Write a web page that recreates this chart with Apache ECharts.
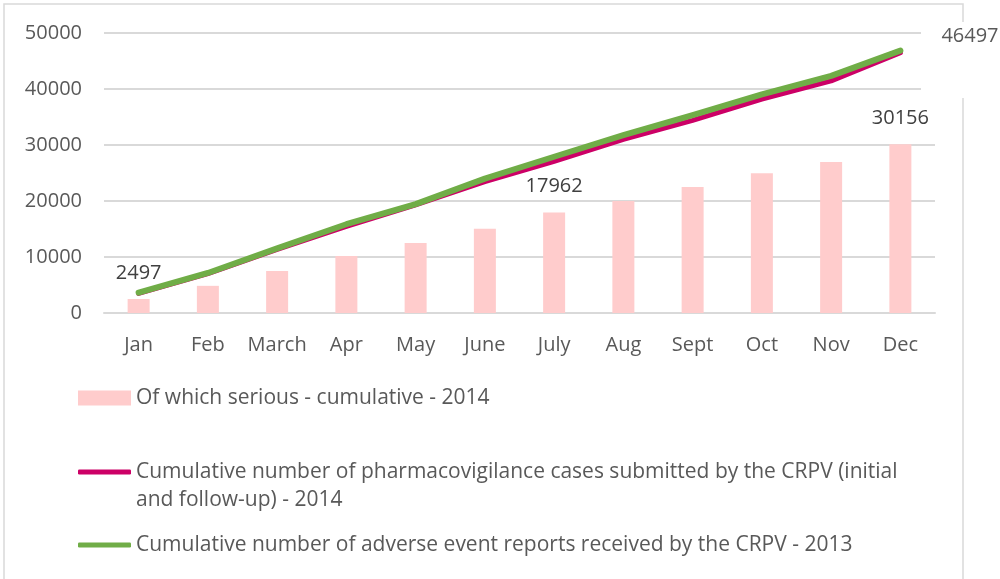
<!DOCTYPE html>
<html>
<head>
<meta charset="utf-8">
<script src="https://cdn.jsdelivr.net/npm/echarts@6/dist/echarts.min.js"></script>
<style>
  html, body { margin: 0; padding: 0; background: #fff; }
  #chart { width: 1000px; height: 579px; }
</style>
</head>
<body>
<div id="chart"></div>
<script>
// months on the category axis
const months = ['Jan', 'Feb', 'March', 'Apr', 'May', 'June', 'July', 'Aug', 'Sept', 'Oct', 'Nov', 'Dec']
// serious cases, cumulative 2014 (bars)
const serious2014 = [2497, 4850, 7500, 10180, 12500, 15050, 17962, 20000, 22500, 24950, 26960, 30156]
// CRPV pharmacovigilance cases 2014 (magenta line)
const cases2014 = [3500, 7050, 11350, 15450, 19300, 23450, 27100, 31000, 34400, 38200, 41450, 46497]
// adverse event reports 2013 (green line)
const reports2013 = [3650, 7150, 11550, 15850, 19450, 24000, 27900, 31750, 35350, 39050, 42350, 46850]
// which bars carry a value label
const labelledBars = [0, 6, 11]

const nameBars = 'Of which serious - cumulative - 2014'
const nameCases = 'Cumulative number of pharmacovigilance cases submitted by the CRPV (initial and follow-up) - 2014'
const nameReports = 'Cumulative number of adverse event reports received by the CRPV - 2013'

const font = 'Open Sans'
const chart = echarts.init(document.getElementById('chart'))

const barData = serious2014.map((v, i) => ({
  value: v,
  label: { show: labelledBars.indexOf(i) >= 0 }
}))

const legendText = { color: '#595959', fontFamily: font, fontSize: 21, lineHeight: 28 }

chart.setOption({
  animation: false,
  textStyle: { fontFamily: font },
  graphic: [
    {
      // chart area border
      type: 'rect',
      z: -10,
      shape: { x: 4, y: 4, width: 959, height: 600 },
      style: { fill: 'none', stroke: '#d9d9d9', lineWidth: 1.5 }
    },
    {
      // white box behind the end label, as in the original
      type: 'rect',
      z: 1,
      shape: { x: 921, y: 22, width: 79, height: 76 },
      style: { fill: '#fff' }
    }
  ],
  grid: { left: 104, right: 65, top: 33, bottom: 266 },
  legend: [
    {
      left: 78, top: 384, padding: 0,
      itemWidth: 53, itemHeight: 15,
      icon: 'rect',
      data: [{ name: nameBars }],
      textStyle: legendText
    },
    {
      left: 78, top: 430, padding: 0,
      itemWidth: 53, itemHeight: 5,
      icon: 'roundRect',
      data: [{ name: nameCases }],
      // blank first line keeps the icon level with the first text line
      formatter: () => ' \nCumulative number of pharmacovigilance cases submitted by the CRPV (initial\nand follow-up) - 2014',
      textStyle: legendText
    },
    {
      left: 78, top: 531, padding: 0,
      itemWidth: 53, itemHeight: 5,
      icon: 'roundRect',
      data: [{ name: nameReports }],
      textStyle: legendText
    }
  ],
  xAxis: {
    type: 'category',
    data: months,
    axisTick: { show: false },
    axisLine: { lineStyle: { color: '#d9d9d9', width: 2 } },
    axisLabel: { color: '#595959', fontSize: 20, margin: 22, interval: 0 }
  },
  yAxis: {
    type: 'value',
    min: 0,
    max: 50000,
    interval: 10000,
    axisLine: { show: false },
    axisTick: { show: false },
    axisLabel: { color: '#595959', fontSize: 20, margin: 22, formatter: v => String(v) },
    splitLine: { lineStyle: { color: '#d9d9d9', width: 2 } }
  },
  series: [
    {
      name: nameBars,
      type: 'bar',
      data: barData,
      barWidth: 22,
      itemStyle: { color: '#ffcccc' },
      label: { position: 'top', distance: 16, color: '#404040', fontSize: 20 }
    },
    {
      name: nameCases,
      type: 'line',
      data: cases2014,
      showSymbol: false,
      symbol: 'none',
      lineStyle: { color: '#cc0066', width: 5, cap: 'round', join: 'round' },
      itemStyle: { color: '#cc0066' },
      endLabel: {
        show: true,
        distance: 5,
        offset: [36, -16],
        color: '#595959',
        fontSize: 20,
        formatter: p => String(p.value)
      }
    },
    {
      name: nameReports,
      type: 'line',
      data: reports2013,
      showSymbol: false,
      symbol: 'none',
      z: 3,
      lineStyle: { color: '#70ad47', width: 6, cap: 'round', join: 'round' },
      itemStyle: { color: '#70ad47' }
    }
  ]
})
</script>
</body>
</html>
